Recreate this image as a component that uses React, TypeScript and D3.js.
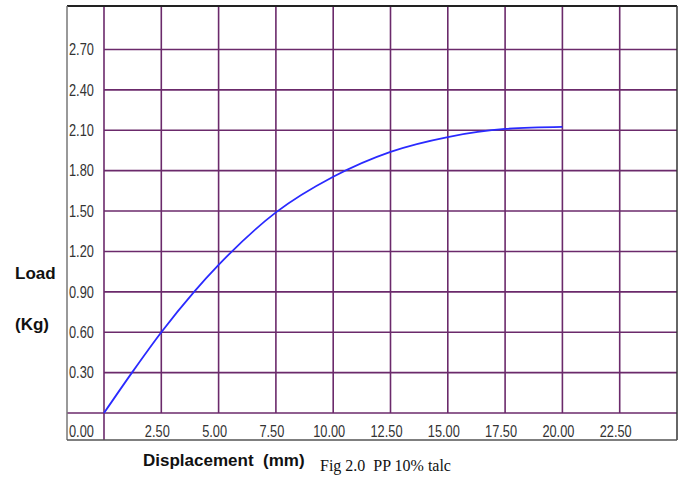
import React, { useRef, useEffect } from "react";
import * as d3 from "d3";

// load vs displacement
const displacement = [0, 1.22, 2.5, 3.93, 5.0, 7.5, 10.0, 12.5, 15.0, 17.5, 20.0];
const load = [0, 0.3, 0.6, 0.9, 1.1, 1.49, 1.755, 1.94, 2.05, 2.11, 2.125];

const xTicks = [2.5, 5, 7.5, 10, 12.5, 15, 17.5, 20, 22.5];
const yTicks = [0.3, 0.6, 0.9, 1.2, 1.5, 1.8, 2.1, 2.4, 2.7];

const frame = { left: 67, top: 6, right: 677, bottom: 440 };
const gridColor = "#6b2a6b";

const App = () => {
	const svgRef = useRef(null);

	useEffect(() => {
		const svg = d3.select(svgRef.current);
		svg.selectAll("*").remove();

		const xScale = d3.scaleLinear().domain([0, 25]).range([104, 677]);
		const yScale = d3.scaleLinear().domain([0, 2.7]).range([413, 49.5]);

		const labelFont = "'Liberation Sans', Arial, sans-serif";
		// the tick labels are a narrow face, squeeze them
		const narrow = 0.8;

		// grid
		const grid = svg.append("g").attr("stroke", gridColor).attr("stroke-width", 1.6);
		grid.selectAll("line.v")
			.data(xTicks)
			.enter()
			.append("line")
			.attr("x1", d => xScale(d))
			.attr("x2", d => xScale(d))
			.attr("y1", frame.top)
			.attr("y2", yScale(0));
		grid.selectAll("line.h")
			.data(yTicks)
			.enter()
			.append("line")
			.attr("x1", xScale(0))
			.attr("x2", frame.right)
			.attr("y1", d => yScale(d))
			.attr("y2", d => yScale(d));
		// zero lines run into the label strips
		grid.append("line")
			.attr("x1", frame.left).attr("x2", frame.right)
			.attr("y1", yScale(0)).attr("y2", yScale(0));
		grid.append("line")
			.attr("x1", xScale(0)).attr("x2", xScale(0))
			.attr("y1", frame.top).attr("y2", frame.bottom);

		// frame
		svg.append("line")
			.attr("x1", frame.left).attr("x2", frame.right)
			.attr("y1", frame.top).attr("y2", frame.top)
			.attr("stroke", "#222").attr("stroke-width", 2);
		svg.append("line")
			.attr("x1", frame.right).attr("x2", frame.right)
			.attr("y1", frame.top).attr("y2", frame.bottom)
			.attr("stroke", "#333").attr("stroke-width", 1.5);
		svg.append("line")
			.attr("x1", frame.left).attr("x2", frame.left)
			.attr("y1", frame.top).attr("y2", frame.bottom)
			.attr("stroke", "#777").attr("stroke-width", 1.5);
		svg.append("line")
			.attr("x1", frame.left).attr("x2", frame.right)
			.attr("y1", frame.bottom).attr("y2", frame.bottom)
			.attr("stroke", "#555").attr("stroke-width", 1.5);

		// tick labels
		svg.append("g")
			.selectAll("text")
			.data(yTicks)
			.enter()
			.append("text")
			.attr("transform", d => `translate(${frame.left + 2},${yScale(d)}) scale(${narrow},1)`)
			.attr("dy", "0.36em")
			.attr("font-family", labelFont)
			.attr("font-size", 16)
			.attr("fill", "#333")
			.text(d => d.toFixed(2));

		svg.append("g")
			.selectAll("text")
			.data(xTicks)
			.enter()
			.append("text")
			.attr("transform", d => `translate(${xScale(d) - 4},437) scale(${narrow},1)`)
			.attr("text-anchor", "middle")
			.attr("font-family", labelFont)
			.attr("font-size", 16)
			.attr("fill", "#333")
			.text(d => d.toFixed(2));

		svg.append("text")
			.attr("transform", `translate(${frame.left + 2},437) scale(${narrow},1)`)
			.attr("font-family", labelFont)
			.attr("font-size", 16)
			.attr("fill", "#333")
			.text((0).toFixed(2));

		// curve
		const pts = displacement.map((d, i) => [d, load[i]]);
		const line = d3.line()
			.x(d => xScale(d[0]))
			.y(d => yScale(d[1]))
			.curve(d3.curveMonotoneX);
		svg.append("path")
			.datum(pts)
			.attr("d", line)
			.attr("fill", "none")
			.attr("stroke", "#2a2aff")
			.attr("stroke-width", 1.8);

		// axis titles
		const titleFont = "'Liberation Sans', Arial, sans-serif";
		svg.append("text")
			.attr("x", 15).attr("y", 279)
			.attr("font-family", titleFont).attr("font-weight", "bold").attr("font-size", 17)
			.attr("fill", "#111")
			.text("Load");
		svg.append("text")
			.attr("x", 15).attr("y", 330)
			.attr("font-family", titleFont).attr("font-weight", "bold").attr("font-size", 17)
			.attr("fill", "#111")
			.text("(Kg)");
		svg.append("text")
			.attr("x", 143).attr("y", 466)
			.attr("font-family", titleFont).attr("font-weight", "bold").attr("font-size", 17)
			.attr("fill", "#111")
			.attr("xml:space", "preserve")
			.text("Displacement  (mm)");
		svg.append("text")
			.attr("x", 320).attr("y", 471)
			.attr("font-family", "'Liberation Serif', 'Times New Roman', serif")
			.attr("font-size", 16)
			.attr("fill", "#111")
			.attr("xml:space", "preserve")
			.text("Fig 2.0  PP 10% talc");
	}, []);

	return (
		<svg
			ref={svgRef}
			width={683}
			height={480}
			style={{ position: "absolute", left: 0, top: 0, background: "#fff" }}
		></svg>
	);
};

export default App;
